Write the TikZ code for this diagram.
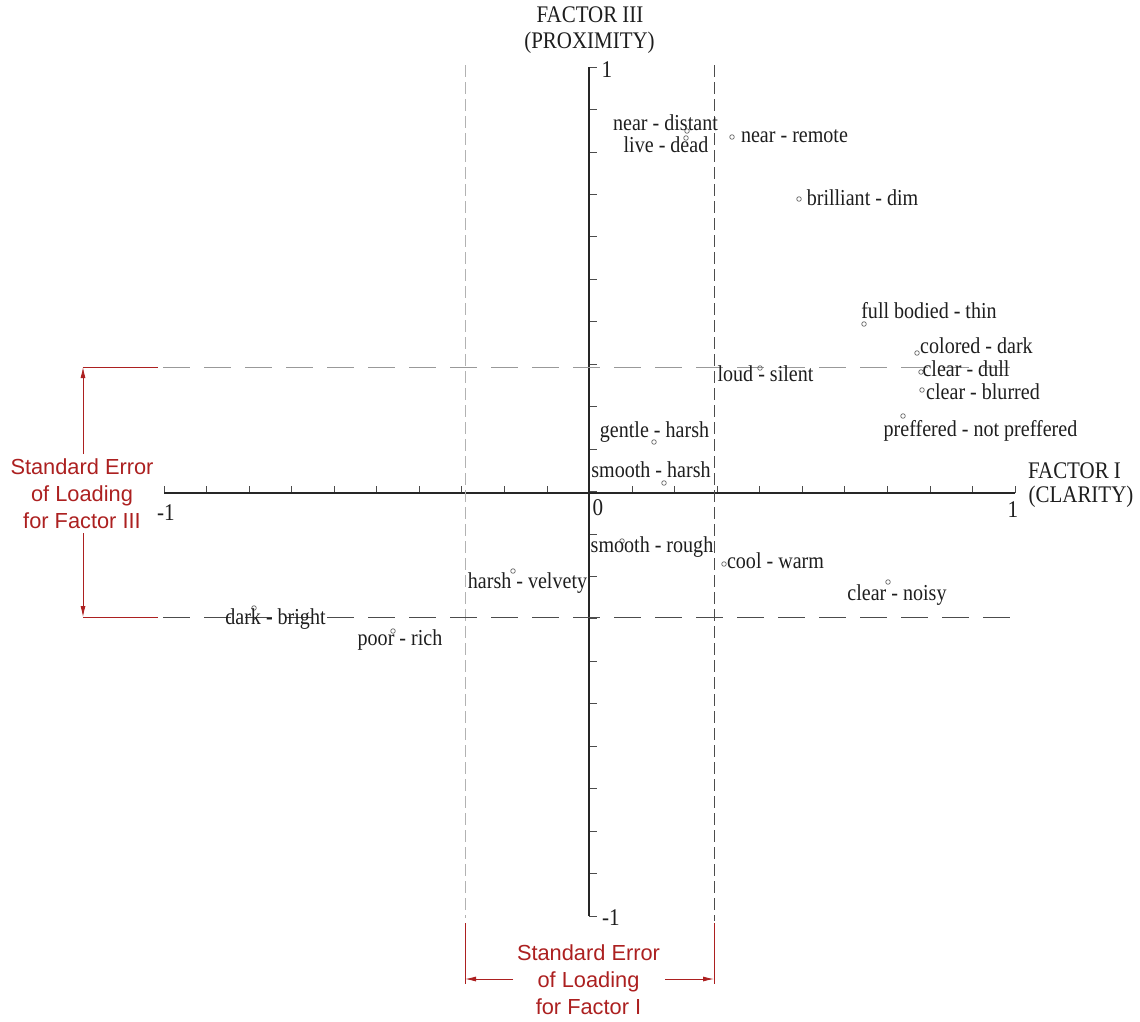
\documentclass[tikz,border=0pt]{standalone}
\usepackage{fontspec}
\setmainfont{Liberation Serif}
\newfontfamily\narrowserif[FakeStretch=0.88]{Liberation Serif}
\newfontfamily\arialf{Liberation Sans}
\usetikzlibrary{arrows.meta}
\definecolor{errred}{RGB}{172,32,32}
\definecolor{txt}{RGB}{30,30,30}
\begin{document}
\begin{tikzpicture}[x=1pt,y=-1pt,
  lbl/.style={anchor=base,inner sep=0pt,text=txt,text height=0.66em,text depth=0.16em,font=\narrowserif\fontsize{22.8}{26}\selectfont},
  ttl/.style={anchor=center,inner sep=0pt,text=txt,text height=0.68em,text depth=0.18em,font=\narrowserif\fontsize{23.8}{27}\selectfont},
  num/.style={anchor=center,inner sep=0pt,text=txt,font=\narrowserif\fontsize{24}{27}\selectfont},
  datapt/.style={circle,draw=black!60,line width=0.7pt,inner sep=0pt,minimum size=4.6pt},
  axisline/.style={line width=1.6pt,black!85},
  tickline/.style={line width=0.8pt,black!70},
  vdashlight/.style={line width=1pt,black!30,dash pattern=on 12pt off 5pt},
  vdashdark/.style={line width=1pt,black!70,dash pattern=on 12pt off 5pt},
  hdashlight/.style={line width=1pt,black!40,dash pattern=on 27pt off 14pt},
  hdashdark/.style={line width=1pt,black!70,dash pattern=on 27pt off 14pt},
  errline/.style={line width=0.9pt,errred},
  errarrow/.style={line width=0.9pt,errred,-{Latex[length=11pt,width=5pt]}},
  errtext/.style={align=center,inner sep=0pt,text=errred,font=\arialf\fontsize{21.8}{27}\selectfont}
]
\useasboundingbox (0,0) rectangle (1140,1021);

% axes
\coordinate (xl) at (164,493);
\coordinate (xr) at (1015,493);
\coordinate (yt) at (589,67);
\coordinate (yb) at (589,916);
\foreach \k in {0,...,20}{
  \draw[tickline] ({164+42.55*\k},493) -- ({164+42.55*\k},486);
  \draw[tickline] (589,{67+42.45*\k}) -- (597,{67+42.45*\k});
}
\draw[axisline] (xl) -- (xr);
\draw[axisline] (yt) -- (yb);

% dashed standard error lines
\coordinate (vlt) at (465,65);  \coordinate (vlb) at (465,918);
\coordinate (vrt) at (714,65);  \coordinate (vrb) at (714,921);
\coordinate (htl) at (163,367); \coordinate (htr) at (1015,367);
\coordinate (hbl) at (163,617); \coordinate (hbr) at (1015,617);
\draw[vdashlight] (vlt) -- (vlb);
\draw[vdashdark] (vrt) -- (vrb);
\draw[hdashlight] (htl) -- (htr);
\draw[hdashdark] (hbl) -- (hbr);

% axis titles and numbers
\node[ttl] (f3a) at (590,20) {FACTOR III};
\node[ttl] (f3b) at (589.5,46) {(PROXIMITY)};
\node[ttl] (f1a) at (1074.5,476) {FACTOR I};
\node[ttl] (f1b) at (1081,500) {(CLARITY)};
\node[num] (ntop) at (607,70) {1};
\node[num] (nzero) at (598,508) {0};
\node[num] (nright) at (1013,510) {1};
\node[num] (nleft) at (166,513) {-1};
\node[num] (nbot) at (611,918) {-1};

% data points
\node[datapt] (p1) at (687,131) {};
\node[datapt] (p2) at (686,138) {};
\node[datapt] (p3) at (732,137) {};
\node[datapt] (p4) at (799,199) {};
\node[datapt] (p5) at (864,324) {};
\node[datapt] (p6) at (917,353) {};
\node[datapt] (p7) at (921,372) {};
\node[datapt] (p8) at (922,390) {};
\node[datapt] (p9) at (903,416) {};
\node[datapt] (p10) at (760,368) {};
\node[datapt] (p11) at (654,442) {};
\node[datapt] (p12) at (664,483) {};
\node[datapt] (p13) at (622,541) {};
\node[datapt] (p14) at (724,564) {};
\node[datapt] (p15) at (888,582) {};
\node[datapt] (p16) at (513,571) {};
\node[datapt] (p17) at (254,608) {};
\node[datapt] (p18) at (393,631) {};

% labels
\node[lbl] (l1) at (665.5,130) {near - distant};
\node[lbl] (l2) at (666,152) {live - dead};
\node[lbl] (l3) at (794.5,142) {near - remote};
\node[lbl] (l4) at (862.5,205) {brilliant - dim};
\node[lbl] (l5) at (929,318) {full bodied - thin};
\node[lbl] (l6) at (976.5,353) {colored - dark};
\node[lbl] (l7) at (966,376) {clear - dull};
\node[lbl] (l8) at (983,399) {clear - blurred};
\node[lbl] (l9) at (980.5,436) {preffered - not preffered};
\node[lbl] (l10) at (765.5,381) {loud - silent};
\node[lbl] (l11) at (654.5,437) {gentle - harsh};
\node[lbl] (l12) at (651,477) {smooth - harsh};
\node[lbl] (l13) at (652,552) {smooth - rough};
\node[lbl] (l14) at (775.5,568) {cool - warm};
\node[lbl] (l15) at (897,600) {clear - noisy};
\node[lbl] (l16) at (527.5,588) {harsh - velvety};
\node[lbl] (l17) at (275.5,624) {dark - bright};
\node[lbl] (l18) at (400,645) {poor - rich};

% left error annotation (Factor III)
\node[errtext] (e3) at (82,494) {Standard Error\\of Loading\\for Factor III};
\coordinate (e3top) at (83,367);
\coordinate (e3bot) at (83,617);
\coordinate (e3topx) at (158,367);
\coordinate (e3botx) at (158,617);
\coordinate (e3s1) at (83,454);
\coordinate (e3s2) at (83,533);
\draw[errline] (e3top) -- (e3topx);
\draw[errline] (e3bot) -- (e3botx);
\draw[errarrow] (e3s1) -- (e3top);
\draw[errarrow] (e3s2) -- (e3bot);

% bottom error annotation (Factor I)
\node[errtext] (e1) at (588.5,980) {Standard Error\\of Loading\\for Factor I};
\coordinate (e1l) at (465,979);
\coordinate (e1r) at (714,979);
\coordinate (e1lt) at (465,923);
\coordinate (e1lb) at (465,984);
\coordinate (e1rt) at (714,923);
\coordinate (e1rb) at (714,984);
\coordinate (e1s1) at (513,979);
\coordinate (e1s2) at (665,979);
\draw[errline] (e1lt) -- (e1lb);
\draw[errline] (e1rt) -- (e1rb);
\draw[errarrow] (e1s1) -- (e1l);
\draw[errarrow] (e1s2) -- (e1r);
\end{tikzpicture}
\end{document}
